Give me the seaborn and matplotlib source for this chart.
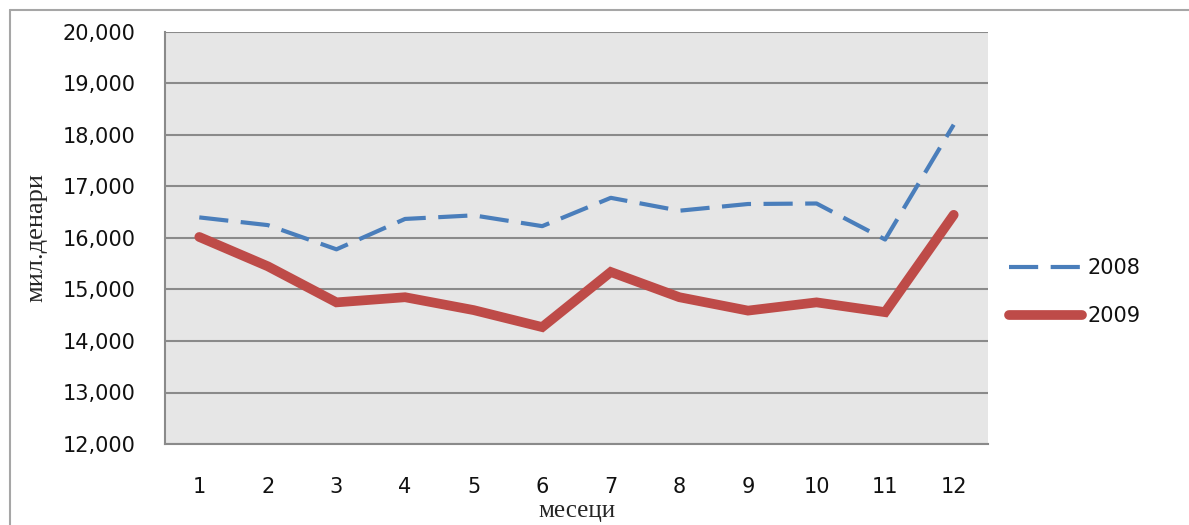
import numpy as np
import pandas as pd
import seaborn as sns
import matplotlib.pyplot as plt
from matplotlib.ticker import FuncFormatter
from matplotlib.lines import Line2D

# месеци и вредности (мил. денари)
months = list(range(1, 13))
v2008 = [16400, 16250, 15780, 16370, 16440, 16230, 16780, 16530, 16660, 16670, 15970, 18200]
v2009 = [16020, 15450, 14750, 14850, 14600, 14270, 15340, 14850, 14590, 14750, 14560, 16450]
years = ['2008', '2009']

df = pd.DataFrame({'месец': months * 2,
                   'вредност': v2008 + v2009,
                   'година': [years[0]] * 12 + [years[1]] * 12})

sns.set_style('white')
plt.rcParams['font.family'] = ['DejaVu Sans']
plt.rcParams['text.color'] = '#111111'
plt.rcParams['xtick.color'] = '#111111'
plt.rcParams['ytick.color'] = '#111111'

fig = plt.figure(figsize=(11.89, 5.25), dpi=100)
ax = fig.add_axes([165 / 1189, 1 - 444 / 525, 823 / 1189, 412 / 525])
ax.set_facecolor('#e6e6e6')

sns.lineplot(data=df, x='месец', y='вредност', hue='година', style='година',
             palette={'2008': '#4a7ebb', '2009': '#be4b48'},
             dashes={'2008': (7, 3), '2009': ''},
             size='година', sizes={'2008': 3, '2009': 7},
             ax=ax, legend=False)
for ln in ax.get_lines():
    ln.set_solid_capstyle('round')
    ln.set_solid_joinstyle('miter')

ax.set_xlim(0.5, 12.5)
ax.set_ylim(12000, 20000)
ax.set_yticks(np.arange(12000, 20001, 1000))
ax.yaxis.set_major_formatter(FuncFormatter(lambda v, p: f'{int(v):,}'))
ax.grid(axis='y', color='#8a8a8a', linewidth=1.5)
ax.set_axisbelow(True)

# поделки меѓу месеците, етикети во средина
ax.set_xticks(np.arange(0.5, 12.6, 1))
ax.set_xticklabels([])
ax.set_xticks(months, minor=True)
ax.set_xticklabels([str(m) for m in months], minor=True)
ax.tick_params(axis='x', which='major', length=8, width=1.2, color='#8a8a8a', direction='out')
ax.tick_params(axis='x', which='minor', length=0, pad=24, labelsize=15)
ax.tick_params(axis='y', length=11, width=1.2, color='#8a8a8a', direction='out', pad=10, labelsize=15)

for s in ['top', 'right']:
    ax.spines[s].set_visible(False)
for s in ['left', 'bottom']:
    ax.spines[s].set_color('#8a8a8a')
    ax.spines[s].set_linewidth(1.5)

ax.set_xlabel('месеци', family='Liberation Serif', fontsize=18)
ax.set_ylabel('мил.денари', family='Liberation Serif', fontsize=19)
ax.xaxis.set_label_coords(0.5, -0.135)
ax.yaxis.set_label_coords(-0.143, 0.5)

handles = [Line2D([], [], color='#4a7ebb', lw=3, dashes=(7, 3)),
           Line2D([], [], color='#be4b48', lw=7, solid_capstyle='round')]
fig.legend(handles, years, loc='center left', bbox_to_anchor=(990 / 1189, 1 - 292 / 525),
           frameon=False, fontsize=15, handlelength=3.5, labelspacing=1.35, handletextpad=0.3)

# рамка околу графикот
fig.add_artist(Line2D([10 / 1189, 10 / 1189], [0, 1 - 10 / 525], transform=fig.transFigure,
                      color='#a6a6a6', lw=1.5))
fig.add_artist(Line2D([10 / 1189, 1], [1 - 10 / 525, 1 - 10 / 525], transform=fig.transFigure,
                      color='#a6a6a6', lw=1.5))

fig.savefig('out.png', dpi=100)
